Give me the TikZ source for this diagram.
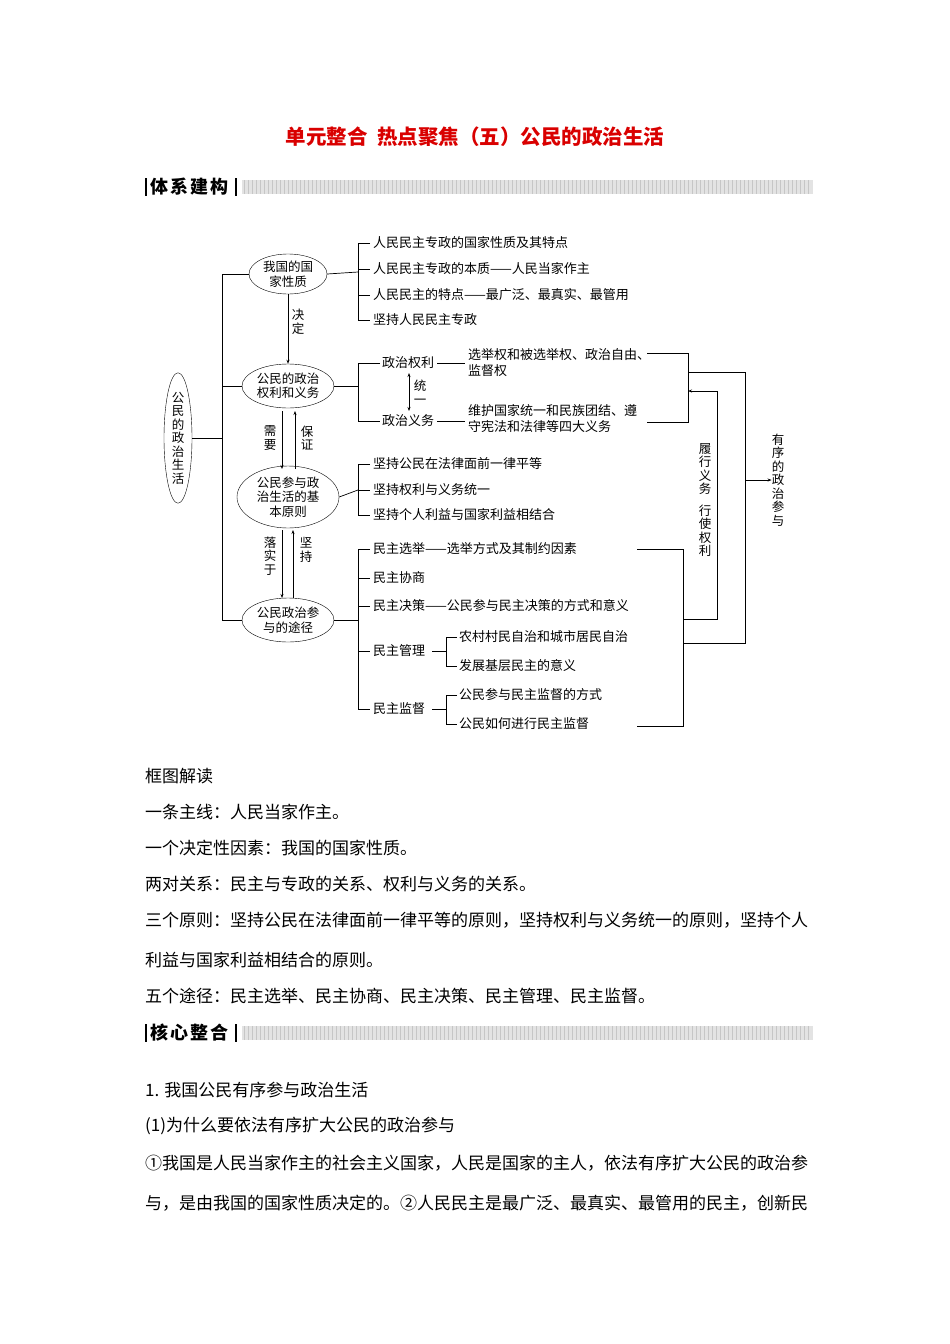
\documentclass[tikz,border=0pt]{standalone}
\usepackage{fontspec}
\setmainfont{Noto Sans CJK SC}
\usetikzlibrary{shapes.geometric,arrows.meta}
\begin{document}
\begin{tikzpicture}[x=1pt,y=-1pt,
  ell/.style={draw,ellipse,inner sep=0pt,align=center,font=\fontsize{12.5}{14.5}\selectfont},
  it/.style={anchor=west,inner sep=0pt,font=\fontsize{13}{15}\selectfont},
  lab/.style={align=center,inner sep=0pt,font=\fontsize{12.5}{13.5}\selectfont},
  bd/.style={anchor=west,inner sep=0pt,font=\fontsize{17}{18}\selectfont},
  ln/.style={line width=0.7pt},
  ar/.style={ln,-{Stealth[length=4pt,width=3pt]}},
  hdr/.style={anchor=west,inner sep=0pt,font=\bfseries\fontsize{18}{18}\selectfont}]
\useasboundingbox (0,0) rectangle (950,1344);
% title
\node[font=\bfseries\fontsize{20.5}{22}\selectfont,text=red!85!black] (title) at (475,137) {单元整合\ \ 热点聚焦（五）公民的政治生活};
% header bars
\foreach \yy/\nm/\a/\b/\c/\d in {187/h1/体/系/建/构,1033/h2/核/心/整/合}{
  \draw[line width=1.2pt] (146,\yy-9) -- (146,\yy+9);
  \node[hdr] (\nm) at (150,\yy) {\a\hspace{2pt}\b\hspace{2pt}\c\hspace{2pt}\d};
  \draw[line width=1.2pt] (236,\yy-9) -- (236,\yy+9);
  \fill[gray!22] (242,\yy-7) rectangle (813,\yy+7);
  \foreach \xx in {244,248,...,811}{\draw[gray!45,line width=0.3pt] (\xx,\yy-7) -- (\xx,\yy+7);}
}
% main ellipse
\node[ell,minimum width=28,minimum height=122,font=\fontsize{12.5}{13.5}\selectfont] (M) at (178,438) {公\\民\\的\\政\\治\\生\\活};
\node[ell,minimum width=78,minimum height=40] (E1) at (288,274) {我国的国\\家性质};
\node[ell,minimum width=92,minimum height=44] (E2) at (288,386) {公民的政治\\权利和义务};
\node[ell,minimum width=102,minimum height=62] (E3) at (288,497) {公民参与政\\治生活的基\\本原则};
\node[ell,minimum width=92,minimum height=44] (E4) at (288,620) {公民政治参\\与的途径};
\coordinate (s) at (222,438);
\draw[ln] (M.east) -- (s);
\draw[ln] (E1.west) -- (222,274) -- (222,620) -- (E4.west);
\draw[ln] (E2.west) -- (222,386);
% arrows between ellipses
\draw[ar] (E1.south) -- (E2.north);
\node[lab] (l1) at (298,322) {决\\定};
\draw[ar] (282,411) -- (282,469);
\draw[ar] (295,469) -- (295,411);
\node[lab] (l2) at (270,438) {需\\要};
\node[lab] (l3) at (307,438) {保\\证};
\draw[ar] (282,530) -- (282,598);
\draw[ar] (293,598) -- (293,530);
\node[lab] (l4) at (270,556) {落\\实\\于};
\node[lab] (l5) at (306,550) {坚\\持};
% E1 items
\draw[ln] (E1.east) -- (358,272);
\draw[ln] (370,243) -- (358,243) -- (358,320) -- (370,320);
\draw[ln] (358,269) -- (370,269); \draw[ln] (358,295) -- (370,295);
\node[it] (a1) at (373,243) {人民民主专政的国家性质及其特点};
\node[it] (a2) at (373,269) {人民民主专政的本质——人民当家作主};
\node[it] (a3) at (373,295) {人民民主的特点——最广泛、最真实、最管用};
\node[it] (a4) at (373,320) {坚持人民民主专政};
% E2 items
\draw[ln] (E2.east) -- (358,386);
\draw[ln] (380,363) -- (358,363) -- (358,421) -- (380,421);
\node[it] (r) at (382,363) {政治权利};
\node[it] (d) at (382,421) {政治义务};
\draw[ln] (r.east) ++(3,0) -- (465,363);
\draw[ln] (d.east) ++(3,0) -- (465,421);
\draw[ln,{Stealth[length=4pt,width=3pt]}-{Stealth[length=4pt,width=3pt]}] (409,373) -- (409,411);
\node[lab] (l6) at (420,392) {统\\一};
\node[it,align=left,font=\fontsize{13}{16}\selectfont] (rt) at (468,363) {选举权和被选举权、政治自由、\\监督权};
\node[it,align=left,font=\fontsize{13}{16}\selectfont] (dt) at (468,419) {维护国家统一和民族团结、遵\\守宪法和法律等四大义务};
% E3 items
\draw[ln] (E3.east) -- (358,490);
\draw[ln] (370,464) -- (358,464) -- (358,515) -- (370,515);
\draw[ln] (358,490) -- (370,490);
\node[it] (b1) at (373,464) {坚持公民在法律面前一律平等};
\node[it] (b2) at (373,490) {坚持权利与义务统一};
\node[it] (b3) at (373,515) {坚持个人利益与国家利益相结合};
% E4 items
\draw[ln] (E4.east) -- (358,620);
\draw[ln] (370,549) -- (358,549) -- (358,709) -- (370,709);
\foreach \yy in {578,606,651}{\draw[ln] (358,\yy) -- (370,\yy);}
\node[it] (c1) at (373,549) {民主选举——选举方式及其制约因素};
\node[it] (c2) at (373,578) {民主协商};
\node[it] (c3) at (373,606) {民主决策——公民参与民主决策的方式和意义};
\node[it] (c4) at (373,651) {民主管理};
\node[it] (c5) at (373,709) {民主监督};
\draw[ln] (432,651) -- (446,651);
\draw[ln] (457,637) -- (446,637) -- (446,666) -- (457,666);
\node[it] (c41) at (459,637) {农村村民自治和城市居民自治};
\node[it] (c42) at (459,666) {发展基层民主的意义};
\draw[ln] (432,709) -- (446,709);
\draw[ln] (457,695) -- (446,695) -- (446,724) -- (457,724);
\node[it] (c51) at (459,695) {公民参与民主监督的方式};
\node[it] (c52) at (459,724) {公民如何进行民主监督};
% right brackets
\draw[ln] (647,353) -- (688,353) -- (688,422) -- (647,422);
\draw[ln] (637,549) -- (683,549) -- (683,726) -- (637,726);
\draw[ln] (688,372) -- (745,372) -- (745,643) -- (683,643);
\coordinate (o) at (745,480);
\node[lab] (L7) at (778,480) {有\\序\\的\\政\\治\\参\\与};
\draw[ar] (o) -- (L7.west);
\draw[ar] (683,619) -- (717,619) -- (717,391) -- (688,391);
\node[lab] (L8) at (705,500) {履\\行\\义\\务\\[8pt]行\\使\\权\\利};
% body text
\node[bd] (t1) at (145,776) {框图解读};
\node[bd] (t2) at (145,812) {一条主线：人民当家作主。};
\node[bd] (t3) at (145,848) {一个决定性因素：我国的国家性质。};
\node[bd] (t4) at (145,884) {两对关系：民主与专政的关系、权利与义务的关系。};
\node[bd] (t5) at (145,920) {三个原则：坚持公民在法律面前一律平等的原则，坚持权利与义务统一的原则，坚持个人};
\node[bd] (t6) at (145,960) {利益与国家利益相结合的原则。};
\node[bd] (t7) at (145,996) {五个途径：民主选举、民主协商、民主决策、民主管理、民主监督。};
\node[bd] (t8) at (145,1090) {1. 我国公民有序参与政治生活};
\node[bd] (t9) at (145,1126) {(1)为什么要依法有序扩大公民的政治参与};
\node[bd] (t10) at (145,1163) {①我国是人民当家作主的社会主义国家，人民是国家的主人，依法有序扩大公民的政治参};
\node[bd] (t11) at (145,1203) {与，是由我国的国家性质决定的。②人民民主是最广泛、最真实、最管用的民主，创新民};
\end{tikzpicture}
\end{document}
